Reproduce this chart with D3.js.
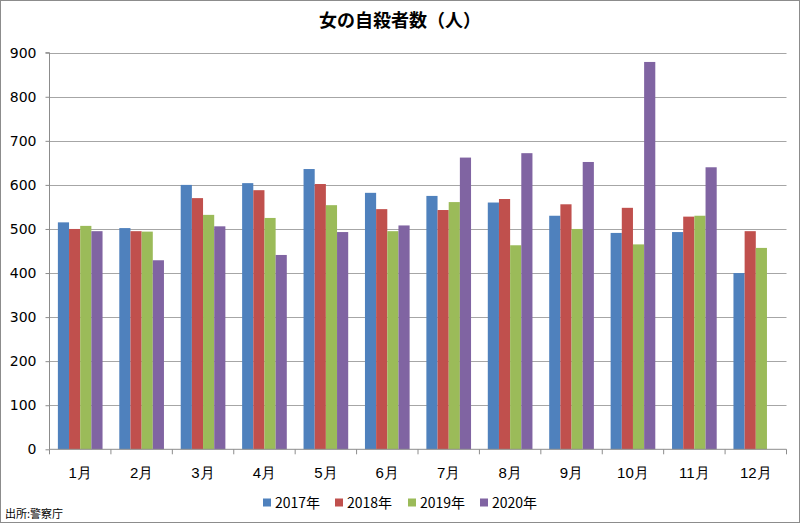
<!DOCTYPE html>
<html><head><meta charset="utf-8">
<script src="https://cdn.jsdelivr.net/npm/d3@7"></script>
<style>
html,body{margin:0;padding:0;background:#fff;}
svg{display:block;font-family:"Noto Sans CJK JP","Noto Sans",sans-serif;}
</style></head><body>
<svg id="c" width="800" height="523"></svg>
<script>
const months = ["1月","2月","3月","4月","5月","6月","7月","8月","9月","10月","11月","12月"];
const seriesNames = ["2017年","2018年","2019年","2020年"];
const colors = ["#4F81BD","#C0504D","#9BBB59","#8064A2"];
const v2017 = [515,502,600,604,636,582,575,560,530,491,493,400];
const v2018 = [500,495,570,588,602,545,543,568,556,548,528,495];
const v2019 = [507,494,532,525,554,495,561,463,500,465,530,457];
const v2020 = [495,429,506,441,493,508,662,672,652,879,640,null];
const yTicks = [0,100,200,300,400,500,600,700,800,900];
const title = "女の自殺者数（人）";
const source = "出所:警察庁";

const allSeries = [v2017,v2018,v2019,v2020];
const svg = d3.select("#c");
svg.append("rect").attr("x",0.5).attr("y",0.5).attr("width",799).attr("height",522)
  .attr("fill","#fff").attr("stroke","#8c8c8c").attr("stroke-width",1);

const m = {left:49.5, right:786.5, top:52.7, bottom:449.3};
const x = d3.scaleBand().domain(months).range([m.left,m.right]).paddingInner(0).paddingOuter(0);
const y = d3.scaleLinear().domain([0,900]).range([m.bottom,m.top]);
const gap = 1.5;
const bw = x.bandwidth()/(4+gap);
const xs = d3.scaleBand().domain(seriesNames).range([bw*gap/2, bw*gap/2 + bw*4]);

// grid
svg.append("g").selectAll("line").data(yTicks.filter(d=>d>0)).join("line")
  .attr("x1",m.left).attr("x2",m.right)
  .attr("y1",d=>Math.round(y(d))+0.5).attr("y2",d=>Math.round(y(d))+0.5)
  .attr("stroke","#a6a6a6").attr("stroke-width",1.2);

// bars
const g = svg.append("g");
allSeries.forEach((vals,si)=>{
  g.append("g").selectAll("rect").data(vals.map((v,i)=>({v,m:months[i]})).filter(d=>d.v!=null)).join("rect")
    .attr("x",d=>x(d.m)+xs(seriesNames[si]))
    .attr("width",xs.bandwidth())
    .attr("y",d=>y(d.v))
    .attr("height",d=>y(0)-y(d.v))
    .attr("fill",colors[si]);
});

// y axis
const ya = svg.append("g").attr("transform",`translate(${m.left},0)`)
  .call(d3.axisLeft(y).tickValues(yTicks).tickSize(4).tickPadding(9));
ya.select(".domain").attr("stroke","#8c8c8c").attr("d",`M-4,${m.top}H0V${m.bottom}`);
ya.selectAll(".tick line").attr("stroke","#8c8c8c");
ya.selectAll("text").attr("font-size",14).attr("fill","#000")
  .attr("font-family","'DejaVu Sans',sans-serif");

// x axis
const xa = svg.append("g").attr("transform",`translate(0,${m.bottom})`)
  .call(d3.axisBottom(x).tickSize(0));
xa.select(".domain").attr("stroke","#8c8c8c").attr("d",`M${m.left},0H${m.right}`);
xa.selectAll("text").attr("font-size",15).attr("fill","#000").attr("dy",null).attr("y",29);
svg.append("g").selectAll("line").data(months.concat(["end"])).join("line")
  .attr("x1",(d,i)=>i<12?x(d):m.right).attr("x2",(d,i)=>i<12?x(d):m.right)
  .attr("y1",m.bottom).attr("y2",m.bottom+5).attr("stroke","#8c8c8c");

// title
svg.append("text").attr("x",400).attr("y",27).attr("text-anchor","middle")
  .attr("font-size",18).attr("font-weight","bold").text(title);

// legend
const lx = [263,335,408,480];
const lg = svg.append("g");
seriesNames.forEach((s,i)=>{
  lg.append("rect").attr("x",lx[i]).attr("y",498.5).attr("width",8).attr("height",8).attr("fill",colors[i]);
  lg.append("text").attr("x",lx[i]+12).attr("y",508).attr("font-size",14).text(s);
});

svg.append("text").attr("x",5).attr("y",518).attr("font-size",11).text(source);
</script>
</body></html>
